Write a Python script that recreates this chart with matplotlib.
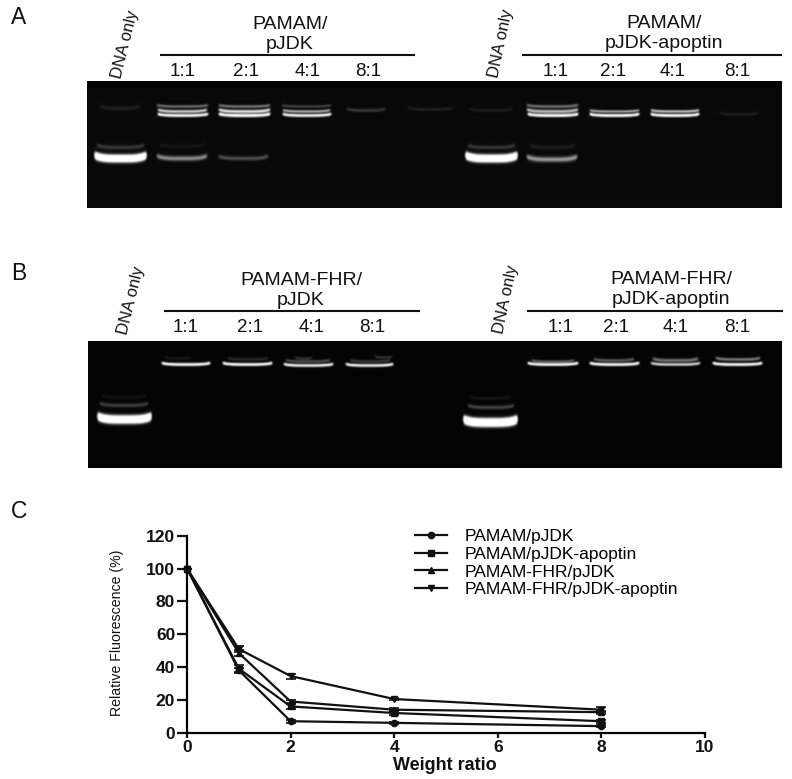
import matplotlib
matplotlib.use('Agg')
import matplotlib.pyplot as plt
import numpy as np

plt.rcParams['font.family'] = ['Liberation Sans', 'DejaVu Sans']

W, H = 792, 779

# weight ratio curves (panel C)
weight_ratio = [0, 1, 2, 4, 8]
pamam_pjdk = [100, 38, 7, 6, 4]
pamam_apoptin = [100, 39, 16, 12, 7]
fhr_pjdk = [100, 48.5, 19, 14, 12.5]
fhr_apoptin = [100, 51, 34.5, 20.5, 14]
err_pamam_pjdk = [0, 1.5, 0.8, 0.5, 0.6]
err_pamam_apoptin = [0, 2, 1.5, 1, 1]
err_fhr_pjdk = [0, 2, 1, 1, 1]
err_fhr_apoptin = [0, 2, 1.5, 0.6, 1.5]
series_names = ['PAMAM/pJDK', 'PAMAM/pJDK-apoptin', 'PAMAM-FHR/pJDK', 'PAMAM-FHR/pJDK-apoptin']
ratio_labels = ['1:1', '2:1', '4:1', '8:1']

# gel bands: x0, x1, y, sigma, brightness (image pixels)
gel_a_bands = [
    (95, 146, 158, 3.0, 3.0), (97, 144, 147, 2.0, 0.2), (100, 140, 108, 1.8, 0.1),
    (157, 208, 106, 1.1, 0.5), (158, 207, 111, 1.4, 0.9), (158, 208, 115, 1.2, 1.6),
    (157, 207, 158, 2.2, 0.55), (160, 205, 146, 1.5, 0.06),
    (219, 270, 106, 1.1, 0.55), (219, 270, 111, 1.5, 1.0), (219, 270, 115, 1.3, 1.6),
    (219, 268, 158, 1.8, 0.3),
    (282, 331, 106, 1.0, 0.3), (283, 330, 111, 1.1, 0.8), (283, 331, 115, 1.2, 1.5),
    (347, 385, 110, 1.4, 0.22), (408, 452, 109, 1.3, 0.11),
    (466, 517, 158, 3.0, 3.2), (468, 515, 147, 1.8, 0.2), (470, 512, 110, 1.3, 0.1),
    (527, 578, 106, 1.2, 0.5), (527, 578, 111, 1.6, 0.8), (528, 578, 115, 1.2, 1.7),
    (527, 577, 159, 2.4, 0.6), (530, 575, 147, 1.6, 0.1),
    (590, 639, 111, 1.0, 0.8), (590, 639, 115, 1.2, 1.7),
    (651, 699, 111, 1.1, 0.9), (651, 699, 115, 1.2, 1.7),
    (720, 757, 114, 1.2, 0.1),
]
gel_b_bands = [
    (98, 151, 419, 3.2, 3.2), (100, 148, 405, 1.8, 0.25), (102, 146, 397, 1.4, 0.08),
    (162, 210, 364, 1.2, 1.6), (165, 190, 358, 1.2, 0.1),
    (223, 272, 364, 1.2, 1.6), (228, 268, 359, 1.2, 0.18),
    (284, 333, 365, 1.2, 1.4), (286, 330, 361, 1.2, 0.35), (295, 312, 358, 1.0, 0.25),
    (346, 393, 365, 1.2, 1.4), (350, 390, 361, 1.2, 0.25), (375, 392, 357, 1.0, 0.25),
    (464, 517, 422, 3.3, 3.4), (468, 514, 407, 1.7, 0.28), (470, 510, 398, 1.4, 0.08),
    (528, 578, 364, 1.2, 1.6), (532, 574, 361, 1.0, 0.45),
    (590, 639, 364, 1.2, 1.6), (594, 634, 360, 1.3, 0.4),
    (651, 700, 364, 1.2, 1.0), (653, 698, 360, 1.5, 0.5),
    (713, 762, 364, 1.2, 1.6), (716, 760, 359, 1.3, 0.55),
]


def blur(img):
    k = np.array([0.25, 0.5, 0.25])
    out = np.apply_along_axis(lambda r: np.convolve(r, k, mode='same'), 1, img)
    out = np.apply_along_axis(lambda c: np.convolve(c, k, mode='same'), 0, out)
    out[:, [0, -1]] = img[:, [0, -1]]
    out[[0, -1], :] = img[[0, -1], :]
    return out


def gel_image(x0, x1, y0, y1, bands, bg):
    xx, yy = np.meshgrid(np.arange(x0, x1) + 0.5, np.arange(y0, y1) + 0.5)
    img = np.full(xx.shape, bg)
    for bx0, bx1, by, sig, amp in bands:
        mid = (bx0 + bx1) / 2
        half = (bx1 - bx0) / 2
        # bands smile a little towards the lane edges
        curve = by - 1.2 * min(sig, 2.5) * ((xx - mid) / half) ** 4 + 0.5
        edge = np.clip((half - np.abs(xx - mid)) / 2.0 + 0.5, 0, 1)
        img += amp * edge * np.exp(-((yy - curve) / sig) ** 2)
    return blur(np.clip(img, 0, 1))


fig = plt.figure(figsize=(W / 100, H / 100), dpi=100)
bg = fig.add_axes([0, 0, 1, 1])
bg.axis('off')

# gels
img_a = gel_image(87, 782, 81, 208, gel_a_bands, 0.035)
img_a[:7] = np.minimum(img_a[:7], 0.01)
bg.imshow(img_a, cmap='gray', vmin=0, vmax=1, extent=(87, 782, 208, 81), aspect='auto', interpolation='bilinear')
img_b = gel_image(88, 782, 341, 468, gel_b_bands, 0.018)
bg.imshow(img_b, cmap='gray', vmin=0, vmax=1, extent=(88, 782, 468, 341), aspect='auto', interpolation='bilinear')
bg.set_xlim(0, W)
bg.set_ylim(H, 0)

# panel letters
for s, x, y in [('A', 19, 17), ('B', 19, 273), ('C', 19, 511)]:
    bg.text(x, y, s, fontsize=16.5, ha='center', va='center', color='#111111')

# header text above gels
head = dict(fontsize=14, ha='center', va='center', color='#111111')
bg.text(290, 24, 'PAMAM/', **head)
bg.text(290, 44, 'pJDK', **head)
bg.text(664, 23, 'PAMAM/', **head)
bg.text(664, 43, 'pJDK-apoptin', **head)
bg.text(301, 280, 'PAMAM-FHR/', **head)
bg.text(301, 300, 'pJDK', **head)
bg.text(671, 279, 'PAMAM-FHR/', **head)
bg.text(671, 299, 'pJDK-apoptin', **head)

for x0, x1, y in [(160, 415, 55), (522, 782, 55), (164, 420, 311), (527, 783, 311)]:
    bg.plot([x0, x1], [y, y], color='#111111', lw=1.5, solid_capstyle='butt')

for xs, y in [((183, 246, 308, 368), 71), ((556, 613, 673, 737), 71),
              ((186, 250, 312, 372), 327), ((561, 616, 676, 737), 327)]:
    for x, s in zip(xs, ratio_labels):
        bg.text(x, y, s, fontsize=13.5, ha='center', va='center', color='#111111')

for x, y, rot in [(125, 44, 76), (501, 43, 78), (131, 300, 76), (506, 299, 78)]:
    bg.text(x, y, 'DNA only', fontsize=12, rotation=rot, ha='center', va='center', color='#111111')

# panel C
ax = fig.add_axes([187 / W, 1 - 732.7 / H, (705 - 187) / W, (732.7 - 535.7) / H])
ax.patch.set_alpha(0)
ys = [pamam_pjdk, pamam_apoptin, fhr_pjdk, fhr_apoptin]
errs = [err_pamam_pjdk, err_pamam_apoptin, err_fhr_pjdk, err_fhr_apoptin]
markers = ['o', 's', '^', 'v']
handles = []
for y, e, m in zip(ys, errs, markers):
    c = ax.errorbar(weight_ratio, y, yerr=e, color='#111111', lw=1.6, marker=m, ms=4.5,
                    capsize=3.5, capthick=1.2, elinewidth=1.2, clip_on=False)
    handles.append(c[0])
ax.set_xlim(0, 10)
ax.set_ylim(0, 120)
ax.set_xticks([0, 2, 4, 6, 8, 10])
ax.set_yticks([0, 20, 40, 60, 80, 100, 120])
ax.spines['right'].set_visible(False)
ax.spines['top'].set_visible(False)
ax.spines['left'].set_linewidth(1.6)
ax.spines['bottom'].set_linewidth(1.6)
ax.tick_params(axis='y', width=1.6, length=7, pad=1.5, labelsize=12.5, colors='#111111')
ax.tick_params(axis='x', width=1.6, length=3.5, pad=2, labelsize=12.5, colors='#111111')
for lab in ax.get_xticklabels() + ax.get_yticklabels():
    lab.set_fontweight('bold')
bg.text(117, 633, 'Relative Fluorescence (%)', fontsize=10.2, rotation=90, ha='center', va='center', color='#111111')
bg.text(445, 765, 'Weight ratio', fontsize=13, fontweight='bold', ha='center', va='center', color='#111111')

ax.legend(handles, series_names, loc='upper left', bbox_to_anchor=(415 / W, 1 - 528.5 / H),
          bbox_transform=fig.transFigure, frameon=False, fontsize=12.5, labelspacing=0.16,
          handlelength=1.84, handletextpad=1.03, borderaxespad=0, borderpad=0)

fig.savefig('out.png', dpi=100)
